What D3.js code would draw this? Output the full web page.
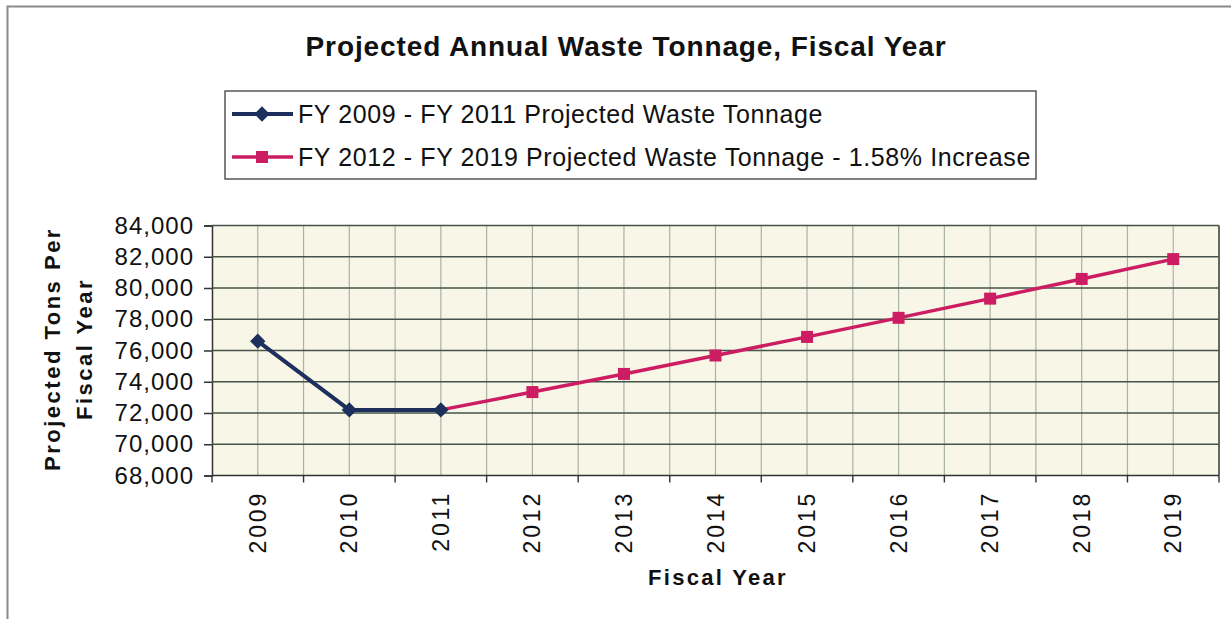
<!DOCTYPE html>
<html>
<head>
<meta charset="utf-8">
<script src="https://cdn.jsdelivr.net/npm/d3@7"></script>
<style>
  html, body { margin: 0; padding: 0; background: #ffffff; }
  svg { display: block; }
  text { font-family: "Liberation Sans", Arial, sans-serif; fill: #111; }
</style>
</head>
<body>
<svg id="chart" width="1231" height="619"></svg>
<script>
// ---- data ----
const years = ["2009","2010","2011","2012","2013","2014","2015","2016","2017","2018","2019"];
const series1Years = ["2009","2010","2011"];
const series1Values = [76600, 72200, 72200];
const series2Years = ["2011","2012","2013","2014","2015","2016","2017","2018","2019"];
const series2Values = [72200, 73340, 74500, 75680, 76870, 78090, 79320, 80580, 81850];
const yTicks = [68000, 70000, 72000, 74000, 76000, 78000, 80000, 82000, 84000];
const titleText = "Projected Annual Waste Tonnage, Fiscal Year";
const legendLabels = ["FY 2009 - FY 2011 Projected Waste Tonnage",
                      "FY 2012 - FY 2019 Projected Waste Tonnage - 1.58% Increase"];
const yTitleLines = ["Projected Tons Per", "Fiscal Year"];
const xTitle = "Fiscal Year";

const navy = "#1d2f5c";
const pink = "#cc1c62";

const svg = d3.select("#chart");

// outer frame
svg.append("path")
  .attr("d", "M7.5,619 L7.5,6.5 L1231,6.5")
  .attr("fill", "none").attr("stroke", "#8a8a8a").attr("stroke-width", 2);

// plot area
const L = 212, R = 1219, T = 225.5, B = 475.5;
const x = d3.scaleBand().domain(years).range([L, R]);
const bw = x.bandwidth();
const cx = d => x(d) + bw / 2;
const y = d3.scaleLinear().domain([68000, 84000]).range([B, T]);

svg.append("rect").attr("x", L).attr("y", T).attr("width", R - L).attr("height", B - T)
  .attr("fill", "#f8f6e6");

// vertical gridlines: band boundaries and centers
const vlines = [];
years.forEach(d => { vlines.push(x(d)); vlines.push(cx(d)); });
vlines.push(R);
svg.append("g").selectAll("line").data(vlines.filter(v => v > L)).join("line")
  .attr("x1", d => d).attr("x2", d => d).attr("y1", T).attr("y2", B)
  .attr("stroke", "#a9b3a4").attr("stroke-width", 1.2);

// horizontal gridlines + y axis
const yAxis = d3.axisLeft(y).tickValues(yTicks).tickFormat(d3.format(",")).tickSize(8).tickPadding(10);
const gy = svg.append("g").attr("transform", `translate(${L},0)`).call(yAxis);
gy.select(".domain").attr("stroke", "#333").attr("stroke-width", 1.5);
gy.selectAll(".tick line").attr("stroke", "#333").attr("stroke-width", 1.5);
gy.selectAll(".tick text").attr("font-size", 24).attr("letter-spacing", 1).attr("fill", "#111")
  .attr("font-family", "Liberation Sans, Arial, sans-serif");
svg.append("g").selectAll("line").data(yTicks.filter(v => v > 68000)).join("line")
  .attr("x1", L).attr("x2", R).attr("y1", d => y(d)).attr("y2", d => y(d))
  .attr("stroke", "#46524a").attr("stroke-width", 1.6);
// right border
svg.append("line").attr("x1", R).attr("x2", R).attr("y1", T).attr("y2", B)
  .attr("stroke", "#46524a").attr("stroke-width", 1.6);

// x axis
svg.append("line").attr("x1", L).attr("x2", R).attr("y1", B).attr("y2", B)
  .attr("stroke", "#333").attr("stroke-width", 1.6);
svg.append("g").selectAll("line").data(years.map(d => x(d)).concat([R])).join("line")
  .attr("x1", d => d).attr("x2", d => d).attr("y1", B).attr("y2", B + 7)
  .attr("stroke", "#333").attr("stroke-width", 1.4);
svg.append("g").selectAll("text").data(years).join("text")
  .attr("transform", d => `translate(${cx(d) + 8},${491}) rotate(-90)`)
  .attr("text-anchor", "end").attr("font-size", 23).attr("letter-spacing", 2.8)
  .text(d => d);

// lines
const line = d3.line().x(d => cx(d[0])).y(d => y(d[1]));
const s1 = series1Years.map((d, i) => [d, series1Values[i]]);
const s2 = series2Years.map((d, i) => [d, series2Values[i]]);
svg.append("path").datum(s2).attr("d", line).attr("fill", "none")
  .attr("stroke", pink).attr("stroke-width", 3.5);
svg.append("path").datum(s1).attr("d", line).attr("fill", "none")
  .attr("stroke", navy).attr("stroke-width", 4);
svg.append("g").selectAll("rect").data(s2.slice(1)).join("rect")
  .attr("x", d => cx(d[0]) - 6).attr("y", d => y(d[1]) - 6)
  .attr("width", 12).attr("height", 12).attr("fill", pink);
const diamond = d3.symbol().type(d3.symbolDiamond2).size(150);
svg.append("g").selectAll("path").data(s1).join("path")
  .attr("transform", d => `translate(${cx(d[0])},${y(d[1])})`)
  .attr("d", diamond).attr("fill", navy);

// title
svg.append("text").attr("x", 626).attr("y", 56).attr("text-anchor", "middle")
  .attr("font-size", 28).attr("font-weight", "bold").attr("letter-spacing", 0.9)
  .attr("fill", "#222").text(titleText);

// legend
svg.append("rect").attr("x", 225).attr("y", 91).attr("width", 811).attr("height", 88)
  .attr("fill", "#fff").attr("stroke", "#555").attr("stroke-width", 1.5);
const legY = [114, 157];
const lg = svg.append("g");
lg.append("line").attr("x1", 232).attr("x2", 293).attr("y1", legY[0]).attr("y2", legY[0])
  .attr("stroke", navy).attr("stroke-width", 4);
lg.append("path").attr("transform", `translate(262,${legY[0]})`).attr("d", diamond).attr("fill", navy);
lg.append("line").attr("x1", 232).attr("x2", 293).attr("y1", legY[1]).attr("y2", legY[1])
  .attr("stroke", pink).attr("stroke-width", 3.5);
lg.append("rect").attr("x", 256).attr("y", legY[1] - 6).attr("width", 12).attr("height", 12).attr("fill", pink);
lg.selectAll("text").data(legendLabels).join("text")
  .attr("x", 298).attr("y", (d, i) => legY[i] + 9).attr("font-size", 25).attr("letter-spacing", 0.6)
  .text(d => d);

// y axis title
svg.append("g").selectAll("text").data(yTitleLines).join("text")
  .attr("transform", (d, i) => `translate(${i === 0 ? 60 : 92},${349}) rotate(-90)`)
  .attr("text-anchor", "middle").attr("font-size", 22).attr("font-weight", "bold")
  .attr("letter-spacing", 2.5).text(d => d);

// x axis title
svg.append("text").attr("x", 718).attr("y", 585).attr("text-anchor", "middle")
  .attr("font-size", 22).attr("font-weight", "bold").attr("letter-spacing", 2.3)
  .text(xTitle);
</script>
</body>
</html>
